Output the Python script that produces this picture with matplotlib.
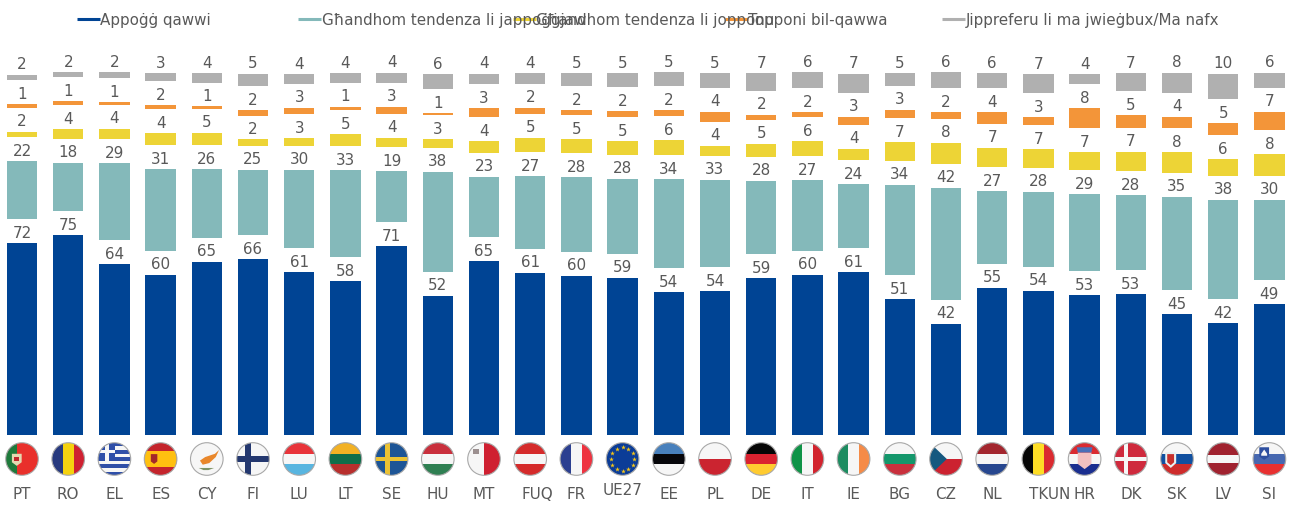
import matplotlib
matplotlib.use('Agg')
import matplotlib.pyplot as plt
from matplotlib.patches import Circle, Polygon, Rectangle
from matplotlib.transforms import Affine2D

countries = ['PT', 'RO', 'EL', 'ES', 'CY', 'FI', 'LU', 'LT', 'SE', 'HU', 'MT', 'FUQ', 'FR', 'UE27',
             'EE', 'PL', 'DE', 'IT', 'IE', 'BG', 'CZ', 'NL', 'TKUN', 'HR', 'DK', 'SK', 'LV', 'SI']
# bar heights, the labels show them rounded
strong_support = [72.2, 75.2, 64.4, 60.4, 65.2, 66.2, 61.3, 58.0, 71.2, 52.4, 65.4, 61.1, 60.0, 59.2,
                  53.7, 54.1, 59.0, 60.3, 61.4, 51.1, 41.8, 55.4, 54.3, 52.7, 53.1, 45.4, 42.0, 49.2]
tend_support = [22.0, 18.4, 28.9, 30.8, 26.0, 24.8, 29.6, 32.7, 19.1, 37.7, 22.9, 27.4, 28.1, 28.4,
                33.7, 33.0, 27.8, 26.7, 24.0, 34.1, 42.3, 27.4, 28.4, 28.9, 28.3, 35.4, 37.6, 30.4]
tend_oppose = [2.1, 3.6, 4.0, 4.4, 4.6, 2.3, 2.8, 4.6, 3.7, 3.3, 4.4, 5.4, 5.3, 5.0,
               5.7, 3.8, 4.9, 5.6, 4.4, 7.0, 8.0, 7.3, 7.0, 6.9, 7.2, 7.7, 6.2, 8.2]
strong_oppose = [1.3, 1.4, 1.1, 1.6, 0.9, 1.9, 2.6, 1.3, 2.6, 0.8, 3.4, 2.4, 1.9, 2.3,
                 2.1, 3.9, 1.9, 2.0, 3.0, 3.3, 2.4, 4.4, 3.0, 7.6, 4.8, 4.3, 4.6, 6.9]
no_answer = [2.0, 1.9, 2.1, 3.1, 3.6, 4.9, 3.6, 3.6, 3.8, 5.7, 4.0, 4.0, 4.9, 5.3,
             5.3, 5.4, 6.6, 5.9, 7.3, 4.8, 6.0, 5.7, 7.2, 3.8, 6.9, 7.6, 9.6, 5.7]
series_names = ['Appoġġ qawwi', 'Għandhom tendenza li jappoġġjaw', 'Għandhom tendenza li jopponu',
                'Topponi bil-qawwa', 'Jippreferu li ma jwieġbux/Ma nafx']

COLORS = ['#004494', '#84B9BA', '#EDD436', '#F39539', '#B0B0B0']
TEXT = '#595959'
W, H = 1294, 506
BAR0, STEP = 22, 46.2
GAP = 9.05  # empty room left above each segment for its label
FS = 10.9

fig = plt.figure(figsize=(W / 100, H / 100), dpi=100)
ax = fig.add_axes([0, (H - 435.7) / H, 1, 375 / H])
ax.set_xlim(-BAR0 / STEP, (W - BAR0) / STEP)
ax.set_ylim(0, 375 / 2.65)
ax.axis('off')

# stacked bars with a gap between the segments
positions = list(range(len(countries)))
bottoms = [0] * len(countries)
for values, color in zip([strong_support, tend_support, tend_oppose, strong_oppose, no_answer], COLORS):
    bars = ax.bar(positions, values, width=0.655, bottom=bottoms, color=color)
    ax.bar_label(bars, labels=[f'{v:.0f}' for v in values], padding=2.5, fontsize=FS, color=TEXT)
    bottoms = [b + v + GAP for b, v in zip(bottoms, values)]

# everything else is placed in pixels on an overlay
over = fig.add_axes([0, 0, 1, 1], facecolor='none')
over.set_xlim(0, W)
over.set_ylim(H, 0)
over.axis('off')

# legend, the entries overlap like in the original
legend_x = [77, 298, 513, 725, 942]
for x, name, color in zip(legend_x, series_names, COLORS):
    over.plot([x, x + 23], [19.5, 19.5], color=color, lw=2.2, solid_capstyle='butt')
    over.text(x + 23.5, 20, name, fontsize=FS, color=TEXT, va='center')

# country codes, some of them sit off centre
label_shift = {'FUQ': (7, 0), 'TKUN': (11, 0), 'UE27': (0, 4)}
for i, code in enumerate(countries):
    dx, dy = label_shift.get(code, (0, 0))
    over.text(BAR0 + STEP * i + dx, 495 - dy, code, fontsize=FS, color=TEXT, ha='center', va='center')


def hstripes(*cols):
    return [((-1, -1 + 2 * k / len(cols)), 2, 2 / len(cols), c) for k, c in enumerate(cols)]


def vstripes(*cols):
    return [((-1 + 2 * k / len(cols), -1), 2 / len(cols), 2, c) for k, c in enumerate(cols)]


def cross(bg, fg, cx=-0.25, t=0.26):
    return [((-1, -1), 2, 2, bg), ((-1, -t / 2), 2, t, fg), ((cx - t / 2, -1), t, 2, fg)]


RED, WHITE = '#D2232E', '#F6F6F6'
GREEK_BLUE = '#2F4FA8'
greek = hstripes(*[GREEK_BLUE, WHITE] * 4 + [GREEK_BLUE]) + [((-1, -1), 1.05, 1.1, GREEK_BLUE),
                                                             ((-1, -0.58), 1.05, 0.24, WHITE),
                                                             ((-0.6, -1), 0.24, 1.1, WHITE)]
FLAGS = {
    'PT': [((-1, -1), 2, 2, '#E9302B'), ((-1, -1), 0.7, 2, '#1F7A3B')],
    'RO': vstripes('#27397E', '#F5D20F', '#CF2031'),
    'EL': greek,
    'ES': [((-1, -1), 2, 2, '#C4242C'), ((-1, -0.5), 2, 1, '#FFC010')],
    'CY': [((-1, -1), 2, 2, WHITE)],
    'FI': cross(WHITE, '#24386F', cx=-0.3, t=0.4),
    'LU': hstripes('#E8343A', WHITE, '#58B5E0'),
    'LT': hstripes('#F2B124', '#0F6E4A', '#B82F2D'),
    'SE': cross('#1D5596', '#EBC234', cx=-0.25, t=0.3),
    'HU': hstripes('#C9303D', WHITE, '#2F7F52'),
    'MT': vstripes(WHITE, '#CF2031'),
    'FUQ': hstripes('#D52B2B', WHITE, '#D52B2B'),
    'FR': vstripes('#2B3F90', WHITE, '#EE3340'),
    'UE27': [((-1, -1), 2, 2, '#0B3C97')],
    'EE': hstripes('#4880BC', '#06060A', WHITE),
    'PL': hstripes(WHITE, '#CB2430'),
    'DE': hstripes('#060606', '#DA2230', '#FFCB30'),
    'IT': vstripes('#0F9347', WHITE, RED),
    'IE': vstripes('#1C8C60', WHITE, '#F58B47'),
    'BG': hstripes(WHITE, '#14976B', '#C9303D'),
    'CZ': hstripes(WHITE, '#CC2230'),
    'NL': hstripes('#A3262E', WHITE, '#27478F'),
    'TKUN': vstripes('#060606', '#FEDD26', '#DA2A30'),
    'HR': hstripes('#DA2A30', WHITE, '#1A2E8F'),
    'DK': cross('#CF2A3D', WHITE, cx=-0.3, t=0.2),
    'SK': hstripes(WHITE, '#1150A0', '#CE2C2C'),
    'LV': [((-1, -1), 2, 2, '#A0222F'), ((-1, -0.22), 2, 0.44, WHITE)],
    'SI': hstripes(WHITE, '#4768B0', '#E83030'),
}
# extra bits: polygons in flag units
EXTRAS = {
    'PT': [([(-0.62, -0.32), (-0.02, -0.32), (-0.02, 0.2), (-0.32, 0.42), (-0.62, 0.2)], '#E5D8B0'),
           ([(-0.47, -0.15), (-0.17, -0.15), (-0.17, 0.1), (-0.47, 0.1)], '#C1272D')],
    'ES': [([(-0.6, -0.3), (-0.2, -0.3), (-0.2, 0.15), (-0.4, 0.3), (-0.6, 0.15)], '#A3282A')],
    'CY': [([(-0.42, 0.1), (-0.1, -0.12), (0.5, -0.32), (0.75, -0.55), (0.55, -0.12), (0.15, 0.25), (-0.25, 0.35)], '#E9872B'),
           ([(-0.5, 0.55), (0.45, 0.55), (0.1, 0.68), (-0.2, 0.68)], '#7E9467')],
    'MT': [([(-0.68, -0.62), (-0.32, -0.62), (-0.32, -0.28), (-0.68, -0.28)], '#9C9090')],
    'CZ': [([(-1, -1), (0.05, 0), (-1, 1)], '#15587F')],
    'HR': [([(-0.42, -0.4), (0.42, -0.4), (0.42, 0.3), (0, 0.62), (-0.42, 0.3)], '#F3C0C0'),
           ([(-0.48, -0.72), (0.48, -0.72), (0.42, -0.4), (-0.42, -0.4)], '#4A6FB8')],
    'SK': [([(-0.72, -0.42), (-0.05, -0.42), (-0.05, 0.25), (-0.38, 0.55), (-0.72, 0.25)], '#E8F0F0'),
           ([(-0.6, -0.3), (-0.18, -0.3), (-0.18, 0.2), (-0.38, 0.38), (-0.6, 0.2)], '#C8302C')],
    'SI': [([(-0.62, -0.72), (-0.02, -0.72), (-0.02, -0.15), (-0.32, 0.05), (-0.62, -0.15)], '#2E4FA0'),
           ([(-0.5, -0.32), (-0.32, -0.58), (-0.14, -0.32), (-0.14, -0.2), (-0.5, -0.2)], WHITE)],
}
STAR_X = [0.72, 0.62, 0.36, 0, -0.36, -0.62, -0.72, -0.62, -0.36, 0, 0.36, 0.62]
STAR_Y = [0, 0.36, 0.62, 0.72, 0.62, 0.36, 0, -0.36, -0.62, -0.72, -0.62, -0.36]

# round flags under the bars
for i, code in enumerate(countries):
    to_px = Affine2D().scale(16.3).translate(BAR0 + STEP * i, 460) + over.transData
    clip = Circle((0, 0), 1, transform=to_px, fc='none', ec='none')
    over.add_patch(clip)
    for xy, w, h, c in FLAGS[code]:
        r = Rectangle(xy, w, h, fc=c, ec='none', transform=to_px)
        over.add_patch(r)
        r.set_clip_path(clip)
    for pts, c in EXTRAS.get(code, []):
        p = Polygon(pts, fc=c, ec='none', transform=to_px)
        over.add_patch(p)
        p.set_clip_path(clip)
    if code == 'UE27':
        over.scatter(STAR_X, STAR_Y, s=13, marker='*', color='#F5C518', lw=0, transform=to_px)
    over.add_patch(Circle((0, 0), 1, transform=to_px, fc='none', ec='#A8A8A8', lw=0.8))

fig.savefig('out.png', dpi=100)
